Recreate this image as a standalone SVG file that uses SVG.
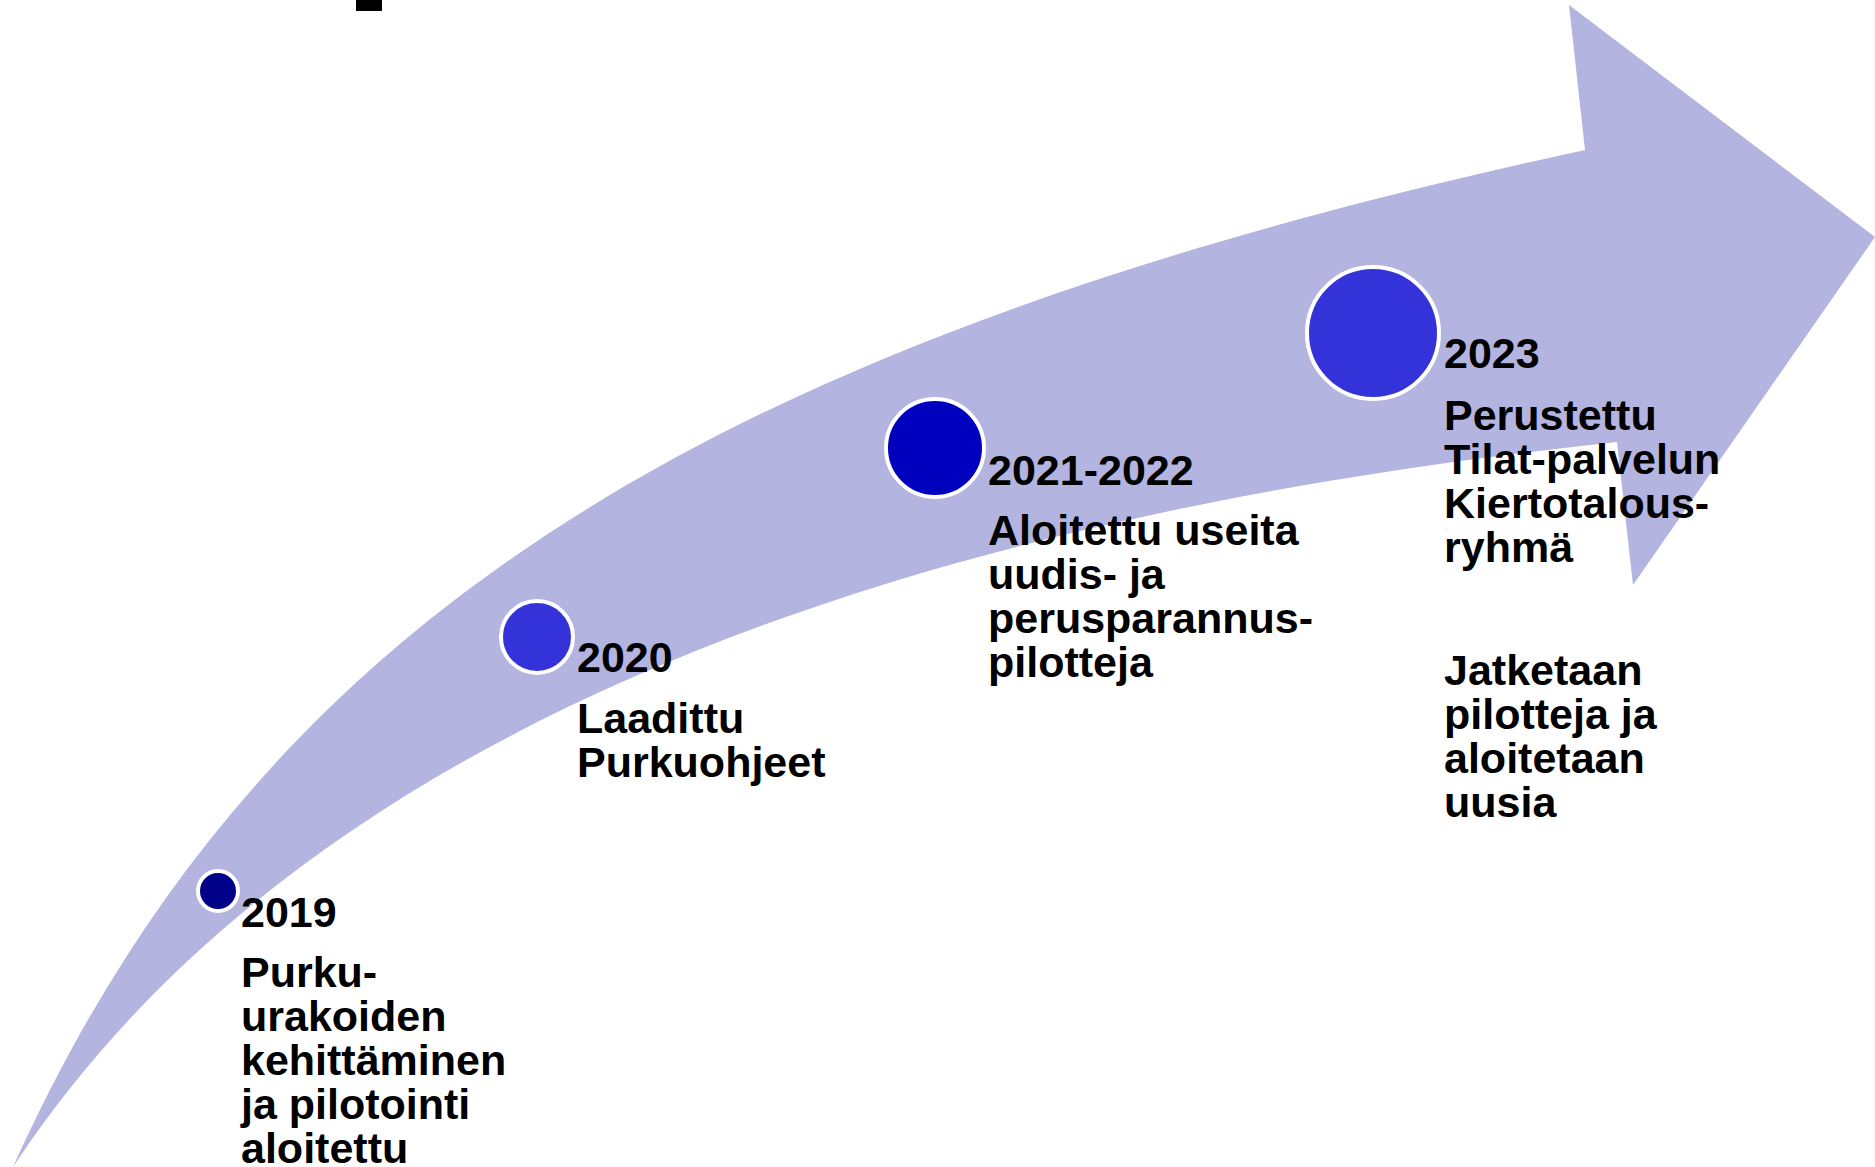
<svg xmlns="http://www.w3.org/2000/svg" width="1875" height="1167" viewBox="0 0 1875 1167">
<style>
.t{font-family:"Liberation Sans",Arial,sans-serif;font-weight:bold;font-size:43px;fill:#000}
.dot{stroke:#fff;stroke-width:4}
</style>
<rect width="1875" height="1167" fill="#fff"/>
<rect x="356" y="0" width="26" height="11" fill="#000"/>
<g id="timeline-arrow">
<path fill="#B3B4E0" d="M13,1167 C259,621 706,340 1585,150 L1569,5 L1875,237 L1633,585 L1617,442 C810,527 275,769 13,1167 Z"/>
</g>
<g id="node-2019">
<circle class="dot" cx="218" cy="891" r="20" fill="#000088"/>
<text class="t" x="241" y="927">2019</text>
<text class="t" x="241" y="987">Purku-</text>
<text class="t" x="241" y="1031">urakoiden</text>
<text class="t" x="241" y="1075">kehittäminen</text>
<text class="t" x="241" y="1119">ja pilotointi</text>
<text class="t" x="241" y="1163">aloitettu</text>
</g>
<g id="node-2020">
<circle class="dot" cx="537" cy="637" r="36" fill="#3333D9"/>
<text class="t" x="577" y="672">2020</text>
<text class="t" x="577" y="733">Laadittu</text>
<text class="t" x="577" y="777">Purkuohjeet</text>
</g>
<g id="node-2021">
<circle class="dot" cx="935" cy="448" r="49" fill="#0000BF"/>
<text class="t" x="988" y="485">2021-2022</text>
<text class="t" x="988" y="545">Aloitettu useita</text>
<text class="t" x="988" y="589">uudis- ja</text>
<text class="t" x="988" y="633">perusparannus-</text>
<text class="t" x="988" y="677">pilotteja</text>
</g>
<g id="node-2023">
<circle class="dot" cx="1373" cy="333" r="66" fill="#3333D9"/>
<text class="t" x="1444" y="368">2023</text>
<text class="t" x="1444" y="430">Perustettu</text>
<text class="t" x="1444" y="474">Tilat-palvelun</text>
<text class="t" x="1444" y="518">Kiertotalous-</text>
<text class="t" x="1444" y="562">ryhmä</text>
<text class="t" x="1444" y="685">Jatketaan</text>
<text class="t" x="1444" y="729">pilotteja ja</text>
<text class="t" x="1444" y="773">aloitetaan</text>
<text class="t" x="1444" y="817">uusia</text>
</g>
</svg>
